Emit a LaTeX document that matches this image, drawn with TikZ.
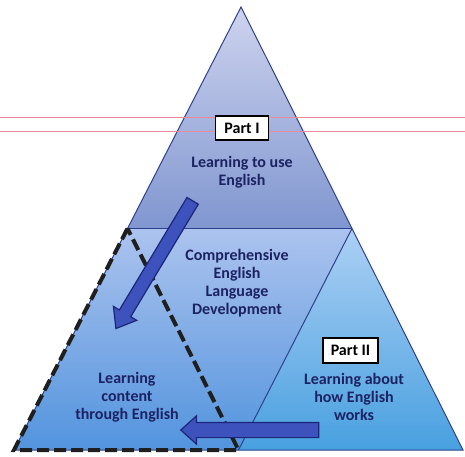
\documentclass[tikz,border=0pt]{standalone}
\usepackage{fontspec}
\setmainfont{Carlito}
\usetikzlibrary{calc,shapes.arrows}
\definecolor{labelcolor}{RGB}{28,34,98}
\definecolor{edgecolor}{RGB}{45,65,140}
\definecolor{topshadetop}{RGB}{206,211,238}
\definecolor{topshadebottom}{RGB}{128,150,208}
\definecolor{lowshadetop}{RGB}{172,195,238}
\definecolor{lowshadebottom}{RGB}{82,148,222}
\definecolor{rightshadetop}{RGB}{172,208,244}
\definecolor{rightshadebottom}{RGB}{72,160,224}
\definecolor{arrowfill}{RGB}{62,82,190}
\definecolor{arrowline}{RGB}{28,38,120}
\definecolor{guidecolor}{RGB}{232,138,154}
\tikzset{
  region edge/.style={edgecolor, line width=1pt},
  content border/.style={
      black!88, line width=4pt,
      dash pattern=on 12pt off 5pt
    },
  part label/.style={
      font=\bfseries\fontsize{16}{18}\selectfont,
      text=labelcolor, align=center
    },
  part box/.style={
      draw=black, line width=1.6pt, fill=white,
      text=black, inner sep=0pt,
      font=\bfseries\fontsize{16}{18}\selectfont
    },
  block arrow/.style={
      single arrow, draw=arrowline, fill=arrowfill,
      line width=1.2pt, inner xsep=0pt
    }
}

\begin{document}
\begin{tikzpicture}[x=1pt, y=1pt]
  \useasboundingbox (0,0) rectangle (465,456);

  % ------------------------------------------------------------------
  % Outer triangle and its four sub-triangles.
  % ------------------------------------------------------------------
  \coordinate (A)  at (241,449);
  \coordinate (BL) at (14,6);
  \coordinate (BR) at (463,6);
  \coordinate (ML) at ($(A)!0.5!(BL)$);
  \coordinate (MR) at ($(A)!0.5!(BR)$);
  \coordinate (B)  at ($(BL)!0.5!(BR)$);

  \shade[top color=topshadetop, bottom color=topshadebottom]
  (A) -- (ML) -- (MR) -- cycle;
  \shade[top color=lowshadetop, bottom color=lowshadebottom]
  (ML) -- (BL) -- (B) -- (MR) -- cycle;
  \shade[top color=rightshadetop, bottom color=rightshadebottom]
  (MR) -- (B) -- (BR) -- cycle;

  \draw[region edge] (MR) -- (B);
  \draw[region edge] (A) -- (BL) -- (BR) -- cycle;
  \draw[edgecolor, line width=1.6pt] (ML) -- (MR);

  % content triangle, dashed
  \draw[content border] (ML) -- (BL) -- (B) -- cycle;

  % guide lines across the page
  \draw[guidecolor, line width=0.7pt] (0,339) -- (465,339);
  \draw[guidecolor, line width=0.7pt] (0,325) -- (465,325);

  % ------------------------------------------------------------------
  % Labels of the parts.
  % ------------------------------------------------------------------
  \node[part box, minimum width=53pt, minimum height=24pt]
  (part1) at (242,328) {Part I};
  \node[part label] (use) at (242,284) {Learning to use\\English};

  \node[part label] (celd) at (237,172.5)
  {Comprehensive\\English\\Language\\Development};

  \node[part label] (content) at (127,58.5)
  {Learning\\content\\through English};

  \node[part box, minimum width=55pt, minimum height=25pt]
  (part2) at (350.5,105.5) {Part II};
  \node[part label] (about) at (354,59) {Learning about\\how English\\works};

  % ------------------------------------------------------------------
  % Block arrows into the content triangle.
  % ------------------------------------------------------------------
  \node[block arrow, minimum height=149pt, inner ysep=6pt,
    single arrow head extend=7pt, single arrow tip angle=75,
    rotate=239] (usearrow) at (156.5,195) {};

  \node[block arrow, minimum height=138pt, inner ysep=7pt,
    single arrow head extend=6.5pt, single arrow tip angle=84,
    rotate=180] (aboutarrow) at (254,26) {};
\end{tikzpicture}
\end{document}
